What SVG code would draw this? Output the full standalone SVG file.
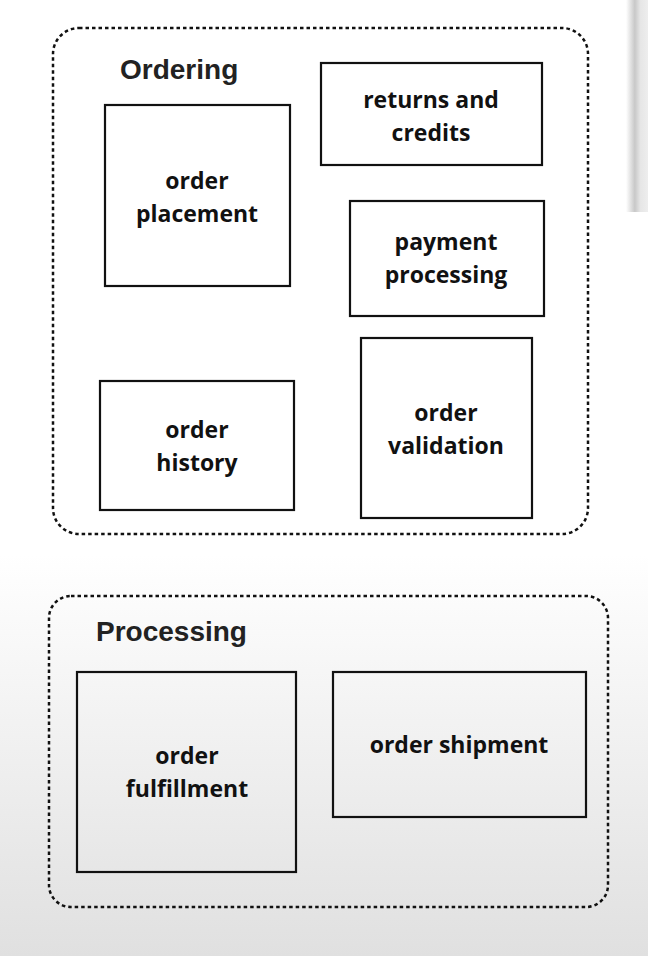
<svg xmlns="http://www.w3.org/2000/svg" width="648" height="956" viewBox="0 0 648 956">
<defs>
<linearGradient id="bg" x1="0" y1="0" x2="0" y2="1">
<stop offset="0" stop-color="#ffffff"/>
<stop offset="0.58" stop-color="#ffffff"/>
<stop offset="1" stop-color="#e0e0e0"/>
</linearGradient>
<linearGradient id="bar" x1="0" y1="0" x2="1" y2="0">
<stop offset="0" stop-color="#ffffff"/>
<stop offset="0.4" stop-color="#c8c8c8"/>
<stop offset="0.65" stop-color="#e6e6e6"/>
<stop offset="1" stop-color="#eeeeee"/>
</linearGradient>
<style>
.grp{fill:none;stroke:#111;stroke-width:2.5;stroke-dasharray:3.5 3}
.box{fill:none;stroke:#111;stroke-width:2.2}
.title{font-family:"Liberation Sans",Arial,sans-serif;font-weight:bold;font-size:28px;fill:#222}
.lbl{font-family:"Open Sans",Lato,sans-serif;font-weight:bold;font-size:23px;fill:#111;text-anchor:middle}
</style>
</defs>
<rect x="0" y="0" width="648" height="956" fill="url(#bg)"/>
<rect x="626" y="0" width="22" height="212" fill="url(#bar)"/>
<g id="ordering">
<rect class="grp" x="53" y="28" width="535" height="506" rx="26"/>
<text class="title" x="120" y="79">Ordering</text>
</g>
<g id="processing">
<rect class="grp" x="49" y="596" width="559" height="311" rx="22"/>
<text class="title" x="96" y="641">Processing</text>
</g>
<g id="order-placement">
<rect class="box" x="105" y="105" width="185" height="181"/>
<text class="lbl" x="197" y="189">order</text>
<text class="lbl" x="197" y="222">placement</text>
</g>
<g id="returns-and-credits">
<rect class="box" x="321" y="63" width="221" height="102"/>
<text class="lbl" x="431" y="108">returns and</text>
<text class="lbl" x="431" y="141">credits</text>
</g>
<g id="payment-processing">
<rect class="box" x="350" y="201" width="194" height="115"/>
<text class="lbl" x="446" y="250">payment</text>
<text class="lbl" x="446" y="283">processing</text>
</g>
<g id="order-history">
<rect class="box" x="100" y="381" width="194" height="129"/>
<text class="lbl" x="197" y="438">order</text>
<text class="lbl" x="197" y="471">history</text>
</g>
<g id="order-validation">
<rect class="box" x="361" y="338" width="171" height="180"/>
<text class="lbl" x="446" y="421">order</text>
<text class="lbl" x="446" y="454">validation</text>
</g>
<g id="order-fulfillment">
<rect class="box" x="77" y="672" width="219" height="200"/>
<text class="lbl" x="187" y="764">order</text>
<text class="lbl" x="187" y="797">fulfillment</text>
</g>
<g id="order-shipment">
<rect class="box" x="333" y="672" width="253" height="145"/>
<text class="lbl" x="459" y="753">order shipment</text>
</g>
<g id="connectors"></g>
</svg>
